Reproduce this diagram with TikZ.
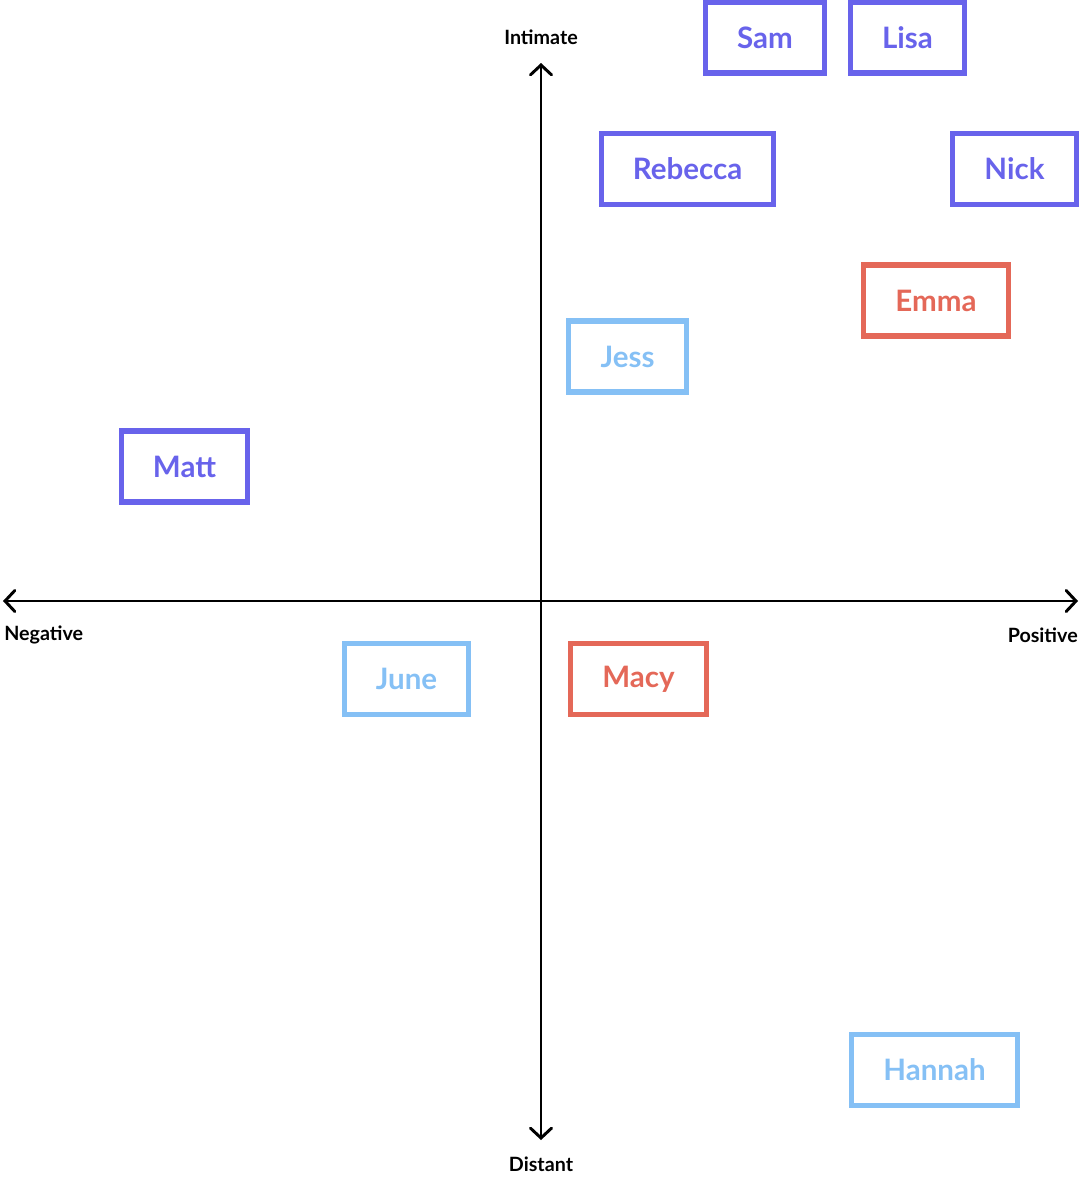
\documentclass[tikz,border=0pt]{standalone}
\usepackage{fontspec}
\setmainfont{Lato}
\usepackage{tikz}
\usetikzlibrary{arrows.meta,positioning}
\definecolor{closecol}{RGB}{104,99,235}
\definecolor{lightcol}{RGB}{133,192,245}
\definecolor{redcol}{RGB}{228,104,88}
\tikzset{
 >={Straight Barb[length=7pt,width=15pt,line cap=round]},
 person/.style={draw=#1,text=#1,line width=3.6pt,inner xsep=22.5pt,
   minimum height=50.5pt,font=\fontsize{21}{21}\selectfont\bfseries},
 axislabel/.style={font=\fontsize{14}{14}\selectfont\bfseries,inner sep=0pt}
}

\begin{document}
\begin{tikzpicture}[x=0.025cm,y=-0.025cm]
\useasboundingbox (0,0) rectangle (1080,1177);

% axes
\coordinate (top) at (541,63);
\coordinate (bottom) at (541,1140);
\coordinate (left) at (3,601);
\coordinate (right) at (1078,601);

\path[<->,line width=2.1pt] (top) edge (bottom);
\path[<->,line width=2.1pt] (left) edge (right);

\path (541,37) node[axislabel,name=intimate] {Intimate};
\path (541,1164) node[axislabel,name=distant] {Distant};
\path (4,635) node[axislabel,anchor=west,name=negative] {Negative};
\path (1078,635) node[axislabel,anchor=east,name=positive] {Positive};

% people
\path (765,37.5) node[person=closecol,name=sam] {Sam};
\path (907.5,37.5) node[person=closecol,name=lisa] {Lisa};
\path (687.5,169) node[person=closecol,name=rebecca] {Rebecca};
\path (1014.5,169) node[person=closecol,name=nick] {Nick};
\path (936,300.5) node[person=redcol,name=emma] {Emma};
\path (627.5,356.5) node[person=lightcol,name=jess] {Jess};
\path (184.5,466.5) node[person=closecol,name=matt] {Matt};
\path (406.5,679) node[person=lightcol,name=june] {June};
\path (638.5,679) node[person=redcol,name=macy] {Macy};
\path (934.5,1070) node[person=lightcol,name=hannah] {Hannah};

\end{tikzpicture}
\end{document}
